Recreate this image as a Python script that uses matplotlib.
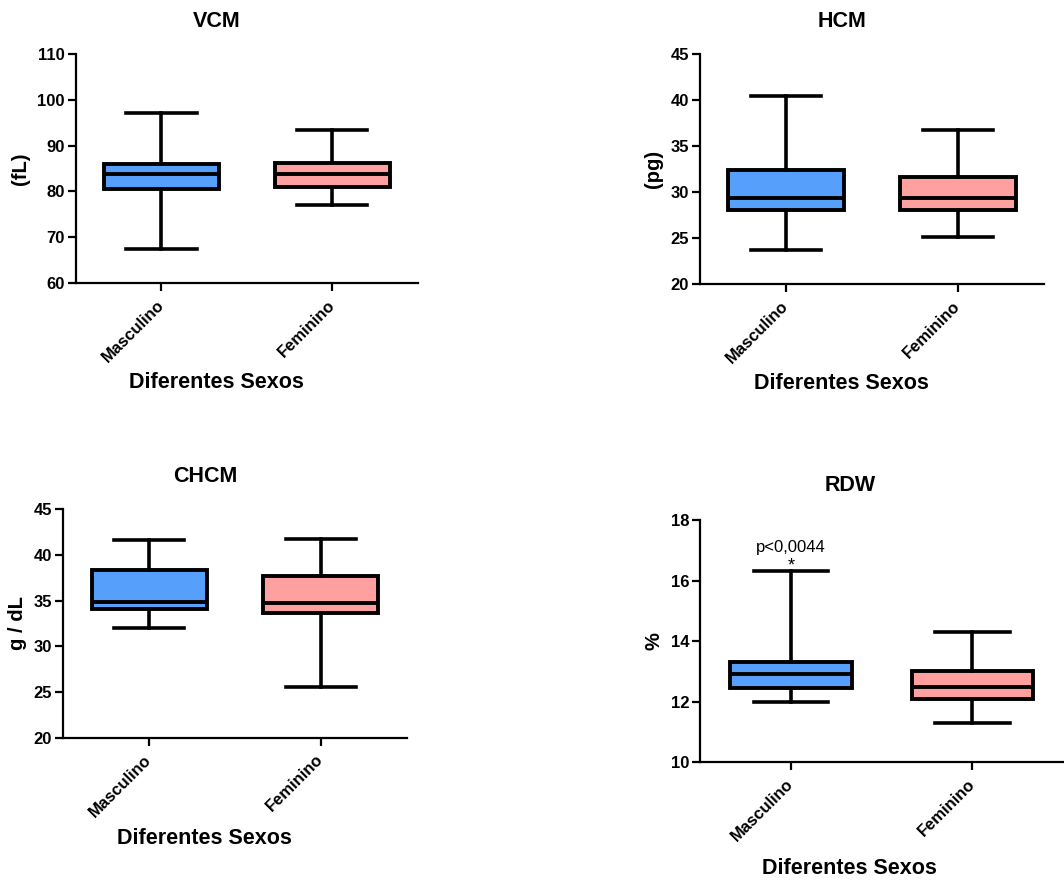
import matplotlib
matplotlib.use("Agg")
import matplotlib.pyplot as plt

plt.rcParams["font.family"] = ["Liberation Sans", "DejaVu Sans"]
plt.rcParams["font.weight"] = "bold"

# ── Data (min, Q1, median, Q3, max) ─────────────────────────────────────────
GROUPS = ["Masculino", "Feminino"]
COLORS = ["#56A0FB", "#FFA0A0"]

VCM_MASC = [67.4, 80.6, 83.7, 86.0, 97.1]
VCM_FEM = [77.0, 81.0, 83.7, 86.1, 93.3]

HCM_MASC = [23.7, 28.0, 29.3, 32.4, 40.4]
HCM_FEM = [25.1, 28.0, 29.3, 31.6, 36.7]

CHCM_MASC = [32.0, 34.1, 34.9, 38.4, 41.6]
CHCM_FEM = [25.5, 33.7, 34.7, 37.7, 41.7]

RDW_MASC = [12.0, 12.44, 12.9, 13.3, 16.3]
RDW_FEM = [11.3, 12.1, 12.5, 13.0, 14.3]

PANELS = [
    # title, ylabel, masc, fem, (ymin, ymax, step), axes rect, title pad
    ("VCM", "(fL)", VCM_MASC, VCM_FEM, (60, 110, 10),
     [0.0714, 0.6799, 0.3214, 0.2590], 19.5),
    ("HCM", "(pg)", HCM_MASC, HCM_FEM, (20, 45, 5),
     [0.6579, 0.6787, 0.3233, 0.2602], 19.5),
    ("CHCM", "g / dL", CHCM_MASC, CHCM_FEM, (20, 45, 5),
     [0.0595, 0.1655, 0.3227, 0.2584], 19.5),
    ("RDW", "%", RDW_MASC, RDW_FEM, (10, 18, 2),
     [0.6582, 0.1377, 0.3409, 0.2741], 21),
]
XLABEL_Y = [-0.391, -0.385, -0.397, -0.394]

fig = plt.figure(figsize=(10.64, 8.84), dpi=100, facecolor="white")


def make_stats(vals, label):
    lo, q1, med, q3, hi = vals
    return dict(label=label, whislo=lo, q1=q1, med=med, q3=q3, whishi=hi,
                fliers=[])


axes = []
for i, (title, ylab, masc, fem, (ymin, ymax, step), rect, tpad) in enumerate(PANELS):
    ax = fig.add_axes(rect)
    stats = [make_stats(masc, GROUPS[0]), make_stats(fem, GROUPS[1])]
    bp = ax.bxp(stats, positions=[1, 2], widths=0.67, capwidths=0.41,
                patch_artist=True, showfliers=False,
                boxprops=dict(linewidth=2.8, edgecolor="black"),
                medianprops=dict(linewidth=2.8, color="black"),
                whiskerprops=dict(linewidth=2.6, color="black"),
                capprops=dict(linewidth=2.6, color="black"))
    for patch, c in zip(bp["boxes"], COLORS):
        patch.set_facecolor(c)

    ax.set_xlim(0.5, 2.5)
    ax.set_ylim(ymin, ymax)
    ax.set_yticks(range(ymin, ymax + 1, step))
    ax.set_xticks([1, 2])
    ax.set_xticklabels(GROUPS, rotation=45, ha="right", va="center",
                       rotation_mode="anchor", fontsize=12, fontweight="bold")
    for lbl in ax.get_yticklabels():
        lbl.set_fontsize(12)
        lbl.set_fontweight("bold")

    ax.spines[["top", "right"]].set_visible(False)
    ax.spines[["left", "bottom"]].set_linewidth(1.6)
    ax.tick_params(axis="both", direction="out", length=6, width=1.6, pad=2)
    ax.tick_params(axis="x", pad=8)

    ax.set_title(title, fontsize=15.5, fontweight="bold", x=0.413, pad=tpad)
    ax.set_ylabel(ylab, fontsize=14.5, fontweight="bold", labelpad=5)
    ax.set_xlabel("Diferentes Sexos", fontsize=15.5, fontweight="bold")
    ax.xaxis.set_label_coords(0.412, XLABEL_Y[i])
    ax.xaxis.label.set_va("top")
    axes.append(ax)

# significance annotation on RDW
ax_rdw = axes[3]
ax_rdw.annotate("*", xy=(1, RDW_MASC[4]), xytext=(0, 4),
                textcoords="offset points", ha="center", va="center",
                fontsize=13, fontweight="normal")
ax_rdw.annotate("p<0,0044", xy=(1, RDW_MASC[4]), xytext=(0, 17),
                textcoords="offset points", ha="center", va="center",
                fontsize=12, fontweight="normal")

fig.savefig("out.png", dpi=100, facecolor="white")
plt.close(fig)
